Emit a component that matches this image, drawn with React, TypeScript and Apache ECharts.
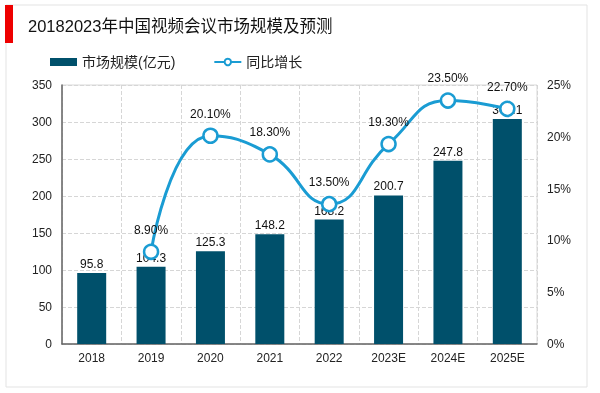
import React, { useEffect, useRef } from "react";
import * as echarts from "echarts";

const categories = ["2018", "2019", "2020", "2021", "2022", "2023E", "2024E", "2025E"];
const marketSize = [95.8, 104.3, 125.3, 148.2, 168.2, 200.7, 247.8, 304.1];
const growthRate: (number | null)[] = [null, 8.9, 20.1, 18.3, 13.5, 19.3, 23.5, 22.7];
const titleText = "20182023年中国视频会议市场规模及预测";
const barName = "市场规模(亿元)";
const lineName = "同比增长";

export default function App() {
  const ref = useRef<HTMLDivElement>(null);
  useEffect(() => {
    const chart = echarts.init(ref.current!, null, { renderer: "svg" });
    const font = "'Liberation Sans', Arial, sans-serif";
    chart.setOption({
      animation: false,
      textStyle: { fontFamily: font },
      graphic: [
        { type: "rect", shape: { x: 6, y: 5, width: 581, height: 382 }, style: { fill: "none", stroke: "#e3e3e3", lineWidth: 1 } },
        { type: "rect", shape: { x: 5, y: 5, width: 8, height: 38 }, style: { fill: "#ee0000" } },
        { type: "text", x: 28, y: 26, style: { text: titleText, font: "16.5px 'Liberation Sans', 'Noto Sans CJK SC', sans-serif", fill: "#111", textVerticalAlign: "middle" } },
      ],
      legend: {
        top: 55,
        left: 50,
        padding: 0,
        itemGap: 38,
        itemWidth: 27,
        itemHeight: 8,
        textStyle: { fontSize: 14, color: "#222", fontFamily: "'Liberation Sans', 'Noto Sans CJK SC', sans-serif" },
        data: [
          { name: barName, icon: "rect" },
          { name: lineName },
        ],
      },
      grid: { left: 62, right: 63, top: 85, bottom: 49, show: true, borderColor: "#d9d9d9", borderWidth: 1 },
      xAxis: {
        type: "category",
        data: categories,
        axisLine: { lineStyle: { color: "#666", width: 1.5 } },
        axisTick: { show: false },
        axisLabel: { color: "#222", fontSize: 12, margin: 8 },
        splitLine: { show: true, lineStyle: { color: "#d6d6d6", type: "dashed" } },
      },
      yAxis: [
        {
          type: "value",
          min: 0,
          max: 350,
          interval: 50,
          axisLine: { show: true, lineStyle: { color: "#666", width: 1.5 } },
          axisTick: { show: false },
          axisLabel: { color: "#222", fontSize: 12, margin: 10 },
          splitLine: { lineStyle: { color: "#d6d6d6", type: "dashed" } },
        },
        {
          type: "value",
          min: 0,
          max: 25,
          interval: 5,
          axisLine: { show: false },
          axisTick: { show: false },
          axisLabel: { color: "#222", fontSize: 12, margin: 10, formatter: "{value}%" },
          splitLine: { show: false },
        },
      ],
      series: [
        {
          name: barName,
          type: "bar",
          data: marketSize,
          barWidth: 29,
          itemStyle: { color: "#00506b" },
          label: { show: true, position: "top", color: "#111", fontSize: 12, distance: 3 },
        },
        {
          name: lineName,
          type: "line",
          yAxisIndex: 1,
          data: growthRate,
          smooth: 0.5,
          symbol: "circle",
          symbolSize: 14,
          lineStyle: { color: "#1a9cd3", width: 3 },
          itemStyle: { color: "#fff", borderColor: "#1a9cd3", borderWidth: 2.5 },
          label: { show: true, position: "top", color: "#111", fontSize: 12, distance: 8, formatter: (p: any) => p.value.toFixed(2) + "%" },
          z: 3,
        },
      ],
    });
    return () => chart.dispose();
  }, []);
  return <div ref={ref} style={{ position: "fixed", left: 0, top: 0, width: 600, height: 393 }} />;
}
